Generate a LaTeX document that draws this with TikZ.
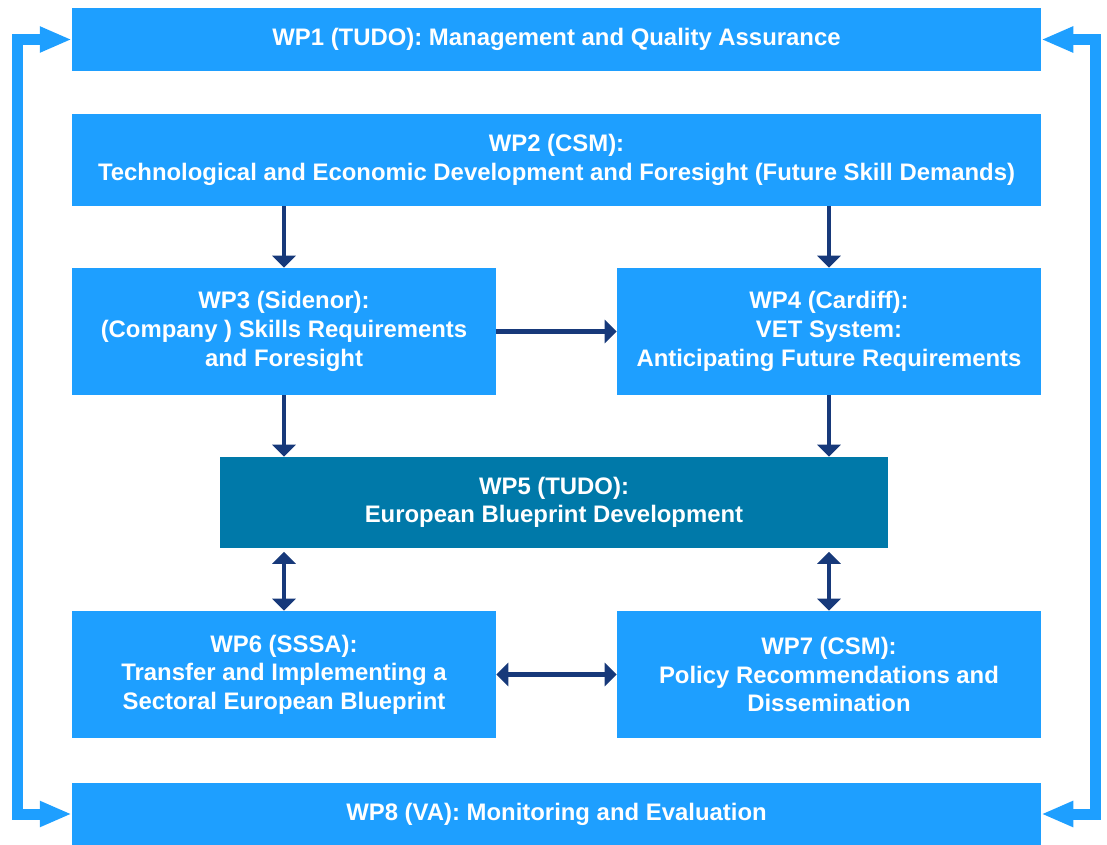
\documentclass[tikz,border=0pt]{standalone}
\usepackage{fontspec}
\setmainfont{Liberation Sans}
\usetikzlibrary{arrows.meta}
\definecolor{wpblue}{HTML}{1E9FFF}
\definecolor{wpteal}{HTML}{0079A9}
\definecolor{wpnavy}{HTML}{17397A}

\begin{document}
\begin{tikzpicture}[x=0.02cm,y=-0.02cm,
   wpbox/.style={fill=wpblue,text=white,align=center,inner sep=0pt,
     font=\fontsize{13.6}{16.3}\selectfont\bfseries},
   wpwide/.style={wpbox,minimum width=19.38cm},
   wphalf/.style={wpbox,minimum width=8.48cm,minimum height=2.54cm},
   flow/.style={draw=wpnavy,line width=0.09cm,
     -{Triangle[length=0.24cm,width=0.46cm]}},
   link/.style={flow,{Triangle[length=0.24cm,width=0.46cm]}-{Triangle[length=0.24cm,width=0.46cm]}},
   side/.style={draw=wpblue,line width=0.22cm,
     {Triangle[length=0.64cm,width=0.48cm]}-{Triangle[length=0.64cm,width=0.48cm]}}]
\useasboundingbox (0,0) rectangle (1107,845);

\node[wpwide,minimum height=1.26cm] (wp1) at (556.5,39.5) {WP1 (TUDO): Management and Quality Assurance};
\node[wpwide,minimum height=1.84cm] (wp2) at (556.5,160)
  {WP2 (CSM):\\Technological and Economic Development and Foresight (Future Skill Demands)};
\node[wphalf] (wp3) at (284,331.5) {WP3 (Sidenor):\\(Company ) Skills Requirements\\and Foresight};
\node[wphalf] (wp4) at (829,331.5) {WP4 (Cardiff):\\VET System:\\Anticipating Future Requirements};
\node[wpbox,fill=wpteal,minimum width=13.36cm,minimum height=1.82cm] (wp5) at (554,502.5)
  {WP5 (TUDO):\\European Blueprint Development};
\node[wphalf] (wp6) at (284,674.5) {WP6 (SSSA):\\Transfer and Implementing a\\Sectoral European Blueprint};
\node[wphalf] (wp7) at (829,674.5) {WP7 (CSM):\\Policy Recommendations and\\Dissemination};
\node[wpwide,minimum height=1.24cm] (wp8) at (556.5,814) {WP8 (VA): Monitoring and Evaluation};

% flow between the work packages
\draw[flow] (wp2.south -| wp3.north) -- (wp3.north);
\draw[flow] (wp2.south -| wp4.north) -- (wp4.north);
\draw[flow] (wp3.east) -- (wp4.west);
\draw[flow] (wp3.south) -- (wp5.north -| wp3.south);
\draw[flow] (wp4.south) -- (wp5.north -| wp4.south);
\draw[link,shorten <=2pt] (wp5.south -| wp6.north) -- (wp6.north);
\draw[link,shorten <=2pt] (wp5.south -| wp7.north) -- (wp7.north);
\draw[link] (wp6.east) -- (wp7.west);

% management and monitoring frame
\draw[side] (wp1.west) -- ++(-54.5,0) |- (wp8.west);
\draw[side] (wp1.east) -- ++(54.5,0) |- (wp8.east);
\end{tikzpicture}
\end{document}
